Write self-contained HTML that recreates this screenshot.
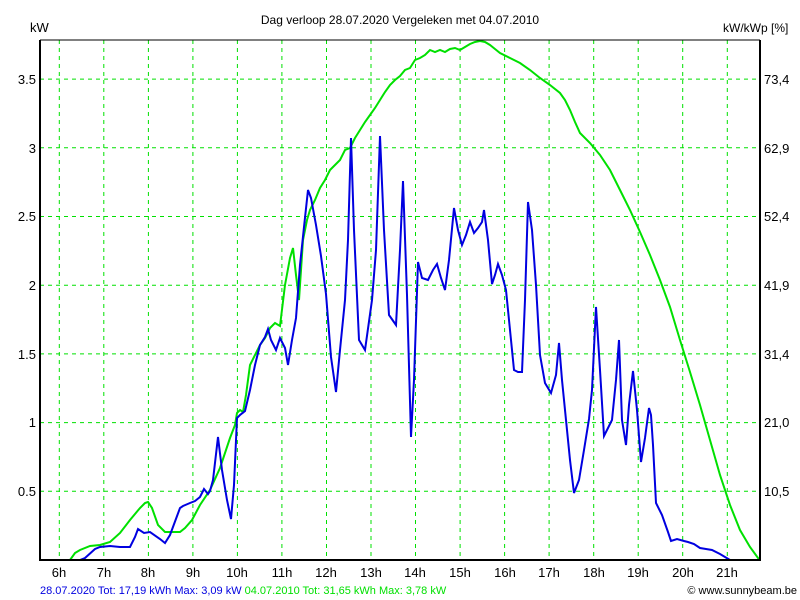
<!DOCTYPE html>
<html><head><meta charset="utf-8"><style>
body{margin:0;background:#fff;}
svg{display:block;font-family:"Liberation Sans",sans-serif;}
</style></head><body>
<svg width="800" height="600" viewBox="0 0 800 600">
<rect width="800" height="600" fill="#fff"/>
<g stroke="#00e000" stroke-width="1" stroke-dasharray="4,4">
<line x1="59.3" y1="40" x2="59.3" y2="560"/><line x1="103.8" y1="40" x2="103.8" y2="560"/><line x1="148.4" y1="40" x2="148.4" y2="560"/><line x1="192.9" y1="40" x2="192.9" y2="560"/><line x1="237.4" y1="40" x2="237.4" y2="560"/><line x1="281.9" y1="40" x2="281.9" y2="560"/><line x1="326.5" y1="40" x2="326.5" y2="560"/><line x1="371" y1="40" x2="371" y2="560"/><line x1="415.5" y1="40" x2="415.5" y2="560"/><line x1="460.1" y1="40" x2="460.1" y2="560"/><line x1="504.6" y1="40" x2="504.6" y2="560"/><line x1="549.1" y1="40" x2="549.1" y2="560"/><line x1="593.7" y1="40" x2="593.7" y2="560"/><line x1="638.2" y1="40" x2="638.2" y2="560"/><line x1="682.7" y1="40" x2="682.7" y2="560"/><line x1="727.3" y1="40" x2="727.3" y2="560"/>
<line x1="40" y1="491.3" x2="760" y2="491.3"/><line x1="40" y1="422.6" x2="760" y2="422.6"/><line x1="40" y1="353.9" x2="760" y2="353.9"/><line x1="40" y1="285.2" x2="760" y2="285.2"/><line x1="40" y1="216.5" x2="760" y2="216.5"/><line x1="40" y1="147.8" x2="760" y2="147.8"/><line x1="40" y1="79.1" x2="760" y2="79.1"/>
</g>
<polyline fill="none" stroke="#00e000" stroke-width="2" points="40,560 70,560 75,553 80,550 90,546 100,545 110,542 120,533 130,520 140,508 145,503 148,502 152,508 158,525 165,532 180,532 185,528 192,520 200,505 210,490 220,468 230,438 235,425 237,413 240,410 243,412 246,395 250,365 255,355 260,345 265,338 270,328 275,323 280,326 285,285 290,258 293,248 296,275 299,300 303,240 307,220 310,210 315,200 320,188 325,180 330,170 335,165 340,160 345,150 350,148 355,138 360,130 365,122 370,115 375,108 380,100 385,92 390,85 395,80 400,76 405,70 410,68 415,60 420,58 425,55 430,50 435,52 440,50 445,52 450,49 455,48 460,50 465,47 470,44 475,42 480,41 485,42 490,45 495,49 500,53 510,58 520,63 530,70 540,78 550,85 560,93 565,100 570,110 575,122 580,133 590,143 600,155 610,170 620,190 630,210 640,232 650,255 660,280 670,307 680,340 690,372 700,405 710,440 720,475 730,505 740,530 750,547 758,558 760,560"/>
<polyline fill="none" stroke="#0000e0" stroke-width="2" points="40,560 80,560 85,558 95,549 100,547 110,546 120,547 130,547 135,537 138,529 144,533 150,532 160,539 165,543 170,535 180,508 183,506 190,503 195,501 200,497 204,489 208,494 210,491 213,480 218,437 222,470 227,500 231,519 234,485 237,418 240,415 245,411 250,390 255,365 260,345 265,337 268,329 271,340 276,350 280,338 285,348 288,365 292,340 296,318 300,265 304,227 308,190 311,198 316,225 321,256 326,294 331,357 336,392 340,350 345,300 348,240 351,138 354,230 359,340 365,350 372,300 376,250 380,136 384,230 389,315 396,325 400,250 403,181 407,295 411,437 414,380 418,262 422,278 428,280 433,270 437,264 441,278 445,290 449,260 454,208 458,230 462,245 466,235 470,222 474,233 478,228 482,222 484,210 488,240 492,284 495,275 498,264 502,275 506,290 510,330 514,370 518,372 522,372 525,300 528,202 532,230 536,285 540,355 545,383 551,393 556,375 559,343 562,380 566,420 570,460 574,493 579,480 584,450 589,419 592,390 596,307 600,370 604,436 608,428 612,420 616,380 619,340 622,420 626,445 629,405 633,371 637,410 641,462 645,438 649,408 651,415 653,445 656,503 662,515 668,532 671,541 677,539 684,541 688,542 694,544 700,548 706,549 712,550 720,554 730,560 760,560"/>
<polyline fill="none" stroke="#000" stroke-width="2" points="40,40 40,560 760,560 760,40"/>
<line x1="40" y1="40" x2="760" y2="40" stroke="#000" stroke-width="1"/>
<g font-size="13" fill="#000">
<text x="30" y="32">kW</text>
<text x="723" y="32" font-size="12">kW/kWp [%]</text>
<text x="400" y="24" text-anchor="middle" font-size="12">Dag  verloop 28.07.2020   Vergeleken met 04.07.2010</text>
<g text-anchor="end">
<text x="36" y="84">3.5</text><text x="36" y="153">3</text><text x="36" y="221">2.5</text><text x="36" y="290">2</text><text x="36" y="359">1.5</text><text x="36" y="427">1</text><text x="36" y="496">0.5</text>
</g>
<g>
<text x="764" y="84">73,4</text><text x="764" y="153">62,9</text><text x="764" y="221">52,4</text><text x="764" y="290">41,9</text><text x="764" y="359">31,4</text><text x="764" y="427">21,0</text><text x="764" y="496">10,5</text>
</g>
<g text-anchor="middle">
<text x="59" y="577">6h</text><text x="104" y="577">7h</text><text x="148" y="577">8h</text><text x="193" y="577">9h</text><text x="237" y="577">10h</text><text x="282" y="577">11h</text><text x="326" y="577">12h</text><text x="371" y="577">13h</text><text x="415" y="577">14h</text><text x="460" y="577">15h</text><text x="505" y="577">16h</text><text x="549" y="577">17h</text><text x="594" y="577">18h</text><text x="638" y="577">19h</text><text x="683" y="577">20h</text><text x="727" y="577">21h</text>
</g>
</g>
<text x="40" y="594" font-size="11"><tspan fill="#0000e0">28.07.2020 Tot: 17,19 kWh Max: 3,09 kW </tspan><tspan fill="#00e000">04.07.2010 Tot: 31,65 kWh Max: 3,78 kW</tspan></text>
<text x="797" y="594" font-size="11" text-anchor="end" fill="#000">© www.sunnybeam.be</text>
</svg>
</body></html>
